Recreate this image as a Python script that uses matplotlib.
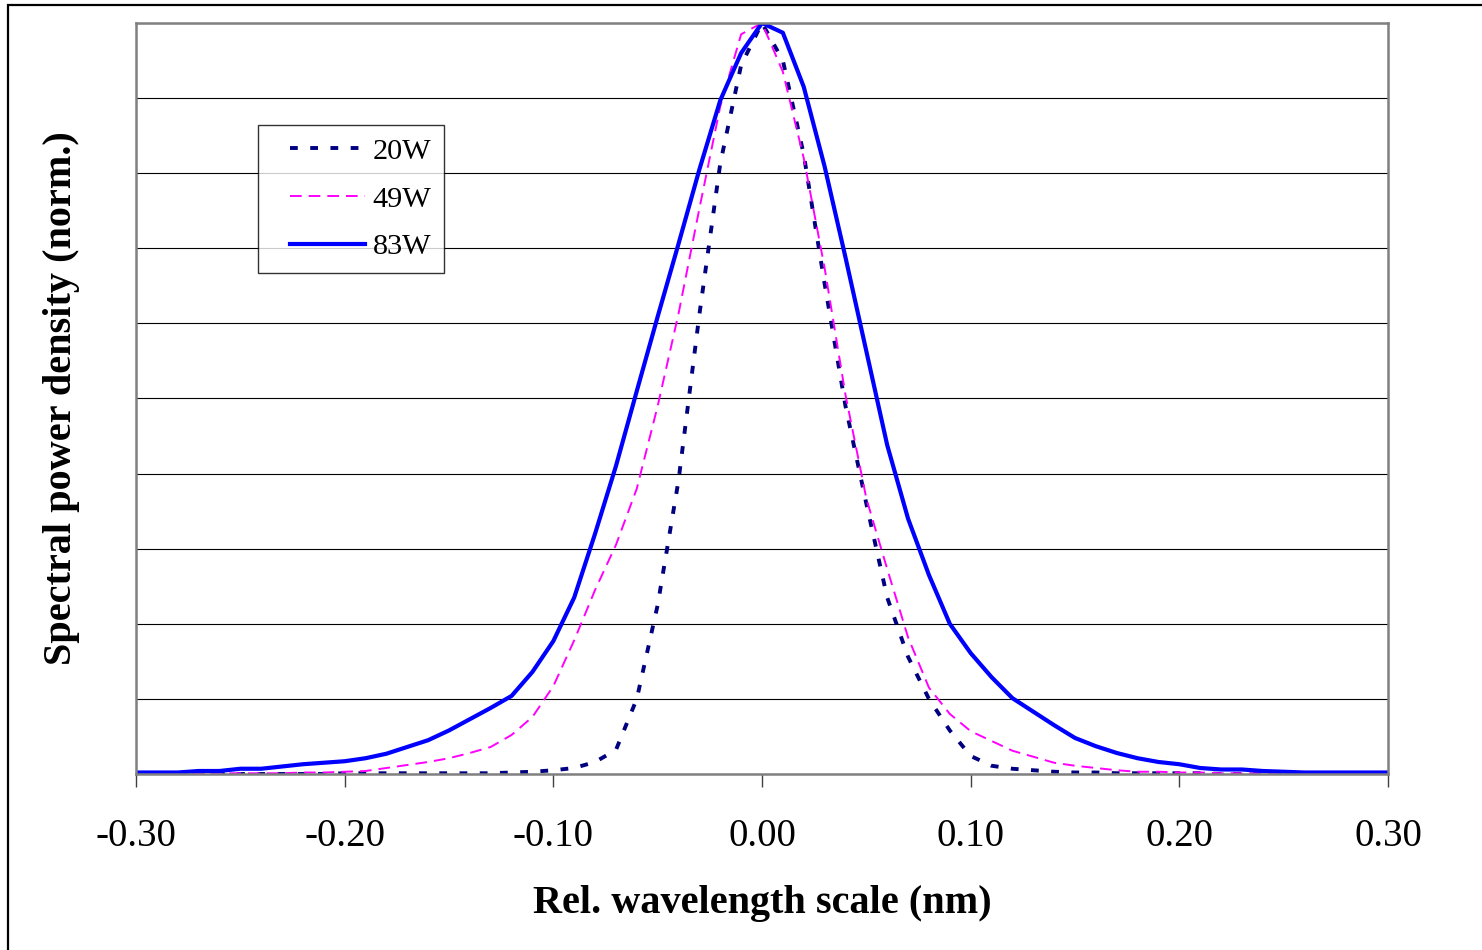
import matplotlib
matplotlib.use("Agg")
import matplotlib.pyplot as plt
import numpy as np
from matplotlib.patches import Rectangle
from matplotlib.ticker import MultipleLocator

plt.rcParams["font.family"] = ["Liberation Serif", "DejaVu Serif"]

# relative wavelength (nm), 0.01 nm steps
wl = [-0.30, -0.29, -0.28, -0.27, -0.26, -0.25, -0.24, -0.23, -0.22, -0.21,
      -0.20, -0.19, -0.18, -0.17, -0.16, -0.15, -0.14, -0.13, -0.12, -0.11,
      -0.10, -0.09, -0.08, -0.07, -0.06, -0.05, -0.04, -0.03, -0.02, -0.01,
      0.00, 0.01, 0.02, 0.03, 0.04, 0.05, 0.06, 0.07, 0.08, 0.09,
      0.10, 0.11, 0.12, 0.13, 0.14, 0.15, 0.16, 0.17, 0.18, 0.19,
      0.20, 0.21, 0.22, 0.23, 0.24, 0.25, 0.26, 0.27, 0.28, 0.29, 0.30]

# normalised spectra
p20 = [0.000, 0.000, 0.000, 0.000, 0.000, 0.000, 0.000, 0.000, 0.000, 0.000,
       0.001, 0.001, 0.001, 0.001, 0.001, 0.001, 0.001, 0.001, 0.002, 0.003,
       0.005, 0.008, 0.016, 0.032, 0.100, 0.225, 0.391, 0.612, 0.813, 0.944,
       1.000, 0.950, 0.825, 0.653, 0.490, 0.360, 0.235, 0.156, 0.100, 0.058,
       0.024, 0.011, 0.007, 0.005, 0.003, 0.002, 0.002, 0.001, 0.001, 0.001,
       0.001, 0.001, 0.000, 0.000, 0.000, 0.000, 0.000, 0.000, 0.000, 0.000, 0.000]

p49 = [0.000, 0.000, 0.000, 0.001, 0.001, 0.001, 0.001, 0.001, 0.002, 0.002,
       0.003, 0.004, 0.008, 0.012, 0.016, 0.021, 0.028, 0.036, 0.052, 0.076,
       0.117, 0.178, 0.245, 0.305, 0.380, 0.490, 0.613, 0.753, 0.889, 0.985,
       1.000, 0.935, 0.820, 0.674, 0.505, 0.367, 0.273, 0.182, 0.115, 0.080,
       0.057, 0.044, 0.031, 0.023, 0.015, 0.011, 0.008, 0.005, 0.003, 0.003,
       0.002, 0.002, 0.001, 0.001, 0.001, 0.001, 0.001, 0.000, 0.000, 0.000, 0.000]

p83 = [0.002, 0.002, 0.002, 0.004, 0.004, 0.007, 0.007, 0.010, 0.013, 0.015,
       0.017, 0.021, 0.027, 0.036, 0.045, 0.058, 0.073, 0.088, 0.104, 0.136,
       0.177, 0.235, 0.320, 0.410, 0.510, 0.609, 0.706, 0.805, 0.897, 0.960,
       1.000, 0.987, 0.915, 0.809, 0.688, 0.563, 0.438, 0.340, 0.265, 0.200,
       0.161, 0.129, 0.101, 0.083, 0.065, 0.048, 0.037, 0.028, 0.021, 0.016,
       0.013, 0.008, 0.006, 0.006, 0.004, 0.003, 0.002, 0.002, 0.002, 0.002, 0.002]

labels = ["20W", "49W", "83W"]
xtick_labels = ["-0.30", "-0.20", "-0.10", "0.00", "0.10", "0.20", "0.30"]

fig = plt.figure(figsize=(14.82, 9.5), dpi=100)
ax = fig.add_axes([136 / 1482, 1 - 774 / 950, 1252 / 1482, 751 / 950])

# outer chart border
fig.patches.append(Rectangle((8 / 1482, -0.1), 2.0, 1.1 - 5 / 950,
                             transform=fig.transFigure, fill=False,
                             edgecolor="black", linewidth=1.6))

ax.plot(wl, p20, color="#000080", linewidth=2.8, dashes=(2.0, 3.2),
        label=labels[0])
ax.plot(wl, p49, color="#FF00FF", linewidth=1.4, dashes=(6.0, 3.6),
        label=labels[1])
ax.plot(wl, p83, color="#0000FF", linewidth=3.0, label=labels[2])

ax.set_xlim(-0.30, 0.30)
ax.set_ylim(0, 1.0)
ax.yaxis.set_major_locator(MultipleLocator(0.1))
ax.set_xticks([-0.3, -0.2, -0.1, 0.0, 0.1, 0.2, 0.3])
ax.set_xticklabels(xtick_labels)
ax.tick_params(axis="x", direction="out", length=9, width=1.0,
               color="#404040", labelsize=28, pad=23)
ax.tick_params(axis="y", left=False, labelleft=False)
ax.grid(axis="y", color="black", linewidth=0.8)
ax.set_axisbelow(True)
for s in ax.spines.values():
    s.set_color("#808080")
    s.set_linewidth(1.8)

ax.set_xlabel("Rel. wavelength scale (nm)", fontsize=29, fontweight="bold")
ax.xaxis.set_label_coords(0.5, -0.172)
ax.xaxis.label.set_va("center")
ax.set_ylabel("Spectral power density (norm.)", fontsize=29, fontweight="bold")
ax.yaxis.set_label_coords(-0.0595, 0.5)
ax.yaxis.label.set_va("center")

leg = ax.legend(loc="upper left", bbox_to_anchor=(258 / 1482, 1 - 125 / 950),
                bbox_transform=fig.transFigure, fontsize=21.8, frameon=True,
                fancybox=False, handlelength=3.1, handletextpad=0.26,
                labelspacing=0.68, borderpad=0.42, borderaxespad=0)
leg.get_frame().set_edgecolor("black")
leg.get_frame().set_linewidth(1.0)
# Excel-style legend: keep a wider left margin before the sample lines
for ln in leg.get_lines():
    xd = np.asarray(ln.get_xdata(), dtype=float)
    ln.set_xdata(np.linspace(xd[0] + 14, xd[-1], len(xd)))

plt.savefig("out.png", dpi=100)
plt.close()
